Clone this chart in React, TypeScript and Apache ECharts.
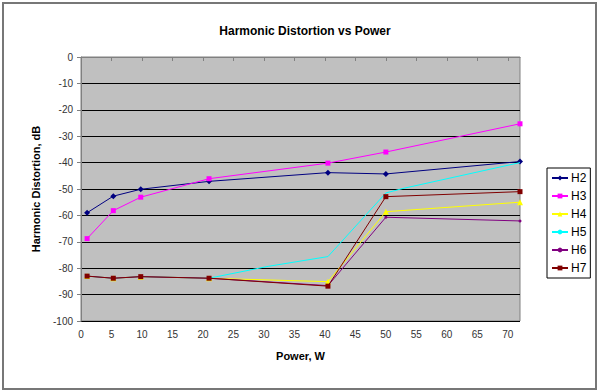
import React, { useEffect, useRef } from "react";
import * as echarts from "echarts";

const seriesNames = ["H2", "H3", "H4", "H5", "H6", "H7"];
const power = [1, 5.3, 9.8, 21, 40.5, 50, 72];
const h2 = [-59, -52.7, -50.1, -47.1, -43.8, -44.3, -39.6];
const h3 = [-68.8, -58.2, -53.1, -46.1, -40.2, -36, -25.3];
const h4 = [-83, -83.8, -83.2, -83.8, -85.1, -58.6, -55];
const h5Power = [1, 5.3, 9.8, 21, 30.7, 40.5, 50, 52.8, 72];
const h5 = [-83, -83.8, -83.2, -83.8, -79.3, -75.6, -51.5, -49.8, -40];
const h6 = [-83, -83.8, -83.2, -83.8, -86.6, -60.7, -62.1];
const h7 = [-83, -83.8, -83.2, -83.8, -86.8, -52.9, -51];
const xTicks = [0, 5, 10, 15, 20, 25, 30, 35, 40, 45, 50, 55, 60, 65, 70];
const yTicks = [0, -10, -20, -30, -40, -50, -60, -70, -80, -90, -100];

const colors = ["#000080", "#FF00FF", "#FFFF00", "#00FFFF", "#800080", "#800000"];
const symbols = ["diamond", "rect", "triangle", "none", "circle", "rect"];
const symbolSizes = [6, 5, 6, 4, 3, 5];

function pairs(xs: number[], ys: number[]) {
  return xs.map((x, i) => [x, ys[i]]);
}

export default function App() {
  const ref = useRef<HTMLDivElement>(null);
  useEffect(() => {
    if (!ref.current) return;
    const chart = echarts.init(ref.current, undefined, { renderer: "svg" });
    const data = [
      pairs(power, h2),
      pairs(power, h3),
      pairs(power, h4),
      pairs(h5Power, h5),
      pairs(power, h6),
      pairs(power, h7),
    ];
    const font = "Arial, 'Liberation Sans', sans-serif";
    chart.setOption({
      animation: false,
      backgroundColor: "#ffffff",
      title: {
        text: "Harmonic Distortion vs Power",
        left: 300,
        textAlign: "center",
        top: 20,
        textStyle: { fontFamily: font, fontSize: 12, fontWeight: "bold", color: "#000" },
      },
      graphic: [
        {
          type: "rect",
          shape: { x: 3, y: 3, width: 593, height: 386 },
          style: { fill: "none", stroke: "#777", lineWidth: 2 },
          silent: true,
        },
      ],
      legend: {
        orient: "vertical",
        left: 547,
        top: 168,
        width: 47,
        data: seriesNames,
        borderColor: "#000",
        borderWidth: 1,
        padding: [4, 4, 4, 4],
        itemWidth: 16,
        itemHeight: 6,
        itemGap: 6,
        backgroundColor: "#fff",
        textStyle: { fontFamily: font, fontSize: 12, color: "#000", padding: [0, 0, 0, -2] },
      },
      grid: {
        left: 81,
        top: 57,
        right: 80,
        bottom: 71,
        show: true,
        backgroundColor: "#C0C0C0",
        borderColor: "#808080",
        borderWidth: 1,
      },
      xAxis: {
        type: "value",
        min: 0,
        max: 72,
        interval: 5,
        name: "Power, W",
        nameLocation: "middle",
        nameGap: 29,
        nameTextStyle: { fontFamily: font, fontSize: 11, fontWeight: "bold", color: "#000" },
        axisLine: { show: true, lineStyle: { color: "#808080" } },
        axisTick: { show: true, length: 4, lineStyle: { color: "#808080" } },
        axisLabel: {
          fontFamily: font,
          fontSize: 10,
          color: "#333",
          margin: 8,
          showMaxLabel: false,
          formatter: (v: number) => (xTicks.includes(v) ? String(v) : ""),
        },
        splitLine: { show: false },
      },
      yAxis: {
        type: "value",
        min: -100,
        max: 0,
        interval: 10,
        name: "Harmonic Distortion, dB",
        nameLocation: "middle",
        nameGap: 40,
        nameTextStyle: { fontFamily: font, fontSize: 11, fontWeight: "bold", color: "#000" },
        axisLine: { show: true, lineStyle: { color: "#808080" } },
        axisTick: { show: true, length: 4, lineStyle: { color: "#808080" } },
        axisLabel: {
          fontFamily: font,
          fontSize: 10,
          color: "#333",
          margin: 8,
          formatter: (v: number) => (yTicks.includes(v) ? String(v) : ""),
        },
        splitLine: { show: true, lineStyle: { color: "#000", width: 1 } },
      },
      series: seriesNames.map((name, i) => ({
        name,
        type: "line",
        data: data[i],
        color: colors[i],
        symbol: symbols[i],
        symbolSize: symbolSizes[i],
        showSymbol: true,
        lineStyle: { color: colors[i], width: 1 },
        itemStyle: { color: colors[i] },
        z: 2 + i,
      })),
    });
    return () => chart.dispose();
  }, []);
  return (
    <div
      ref={ref}
      style={{ position: "fixed", left: 0, top: 0, width: 600, height: 392 }}
    />
  );
}
